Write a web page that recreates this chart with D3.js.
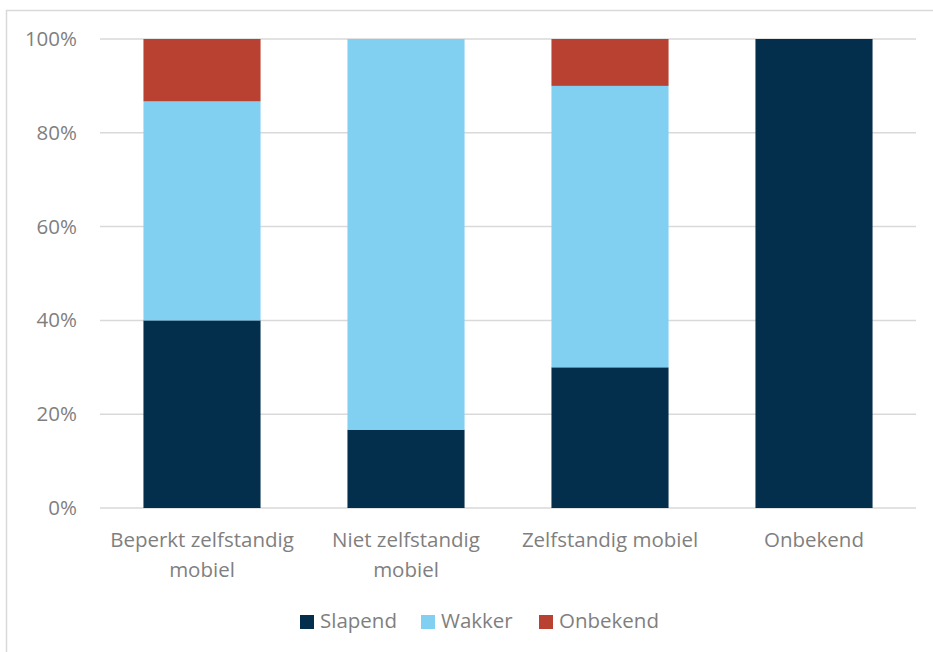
<!DOCTYPE html>
<html>
<head>
<meta charset="utf-8">
<script src="https://cdn.jsdelivr.net/npm/d3@7"></script>
<style>
  body { margin: 0; background: #fff; }
  text { font-family: "Open Sans", "Liberation Sans", sans-serif; fill: #7f7f7f; }
</style>
</head>
<body>
<svg id="chart" width="933" height="652"></svg>
<script>
const categories = [["Beperkt zelfstandig", "mobiel"], ["Niet zelfstandig", "mobiel"], ["Zelfstandig mobiel"], ["Onbekend"]];
const seriesNames = ["Slapend", "Wakker", "Onbekend"];
const slapend = [40, 16.7, 30, 100];
const wakker = [46.7, 83.3, 60, 0];
const onbekend = [13.3, 0, 10, 0];
const yTicks = [0, 20, 40, 60, 80, 100];
const colors = ["#032e4c", "#81d0f2", "#b94131"];
const fontSize = 20.5;

const svg = d3.select("#chart");

// outer frame
svg.append("rect").attr("x", 6.5).attr("y", 10.5).attr("width", 940).attr("height", 660)
  .attr("fill", "none").attr("stroke", "#d9d9d9").attr("stroke-width", 1.5);

const margin = { left: 100, right: 17, top: 39, bottom: 144 };
const W = 933, H = 652;
const x = d3.scaleBand().domain(d3.range(categories.length)).range([margin.left, W - margin.right]).paddingInner(0.426).paddingOuter(0.213);
const y = d3.scaleLinear().domain([0, 100]).range([H - margin.bottom, margin.top]);

// gridlines
svg.append("g").selectAll("line").data(yTicks).join("line")
  .attr("x1", margin.left).attr("x2", W - margin.right)
  .attr("y1", d => y(d)).attr("y2", d => y(d))
  .attr("stroke", "#d9d9d9").attr("stroke-width", 1.5);

// y tick labels
const yAxis = d3.axisLeft(y).tickValues(yTicks).tickFormat(d => d + "%").tickSize(0).tickPadding(0);
const gy = svg.append("g").attr("transform", `translate(${margin.left - 23},0)`).call(yAxis);
gy.select(".domain").remove();
gy.selectAll("text").attr("font-size", fontSize).style("fill", "#7f7f7f").attr("font-family", "'Open Sans', sans-serif");

// stacked data
const rows = categories.map((c, i) => ({ i, Slapend: slapend[i], Wakker: wakker[i], Onbekend: onbekend[i] }));
const stacked = d3.stack().keys(seriesNames)(rows);

svg.append("g").selectAll("g").data(stacked).join("g")
  .attr("fill", (d, k) => colors[k])
  .selectAll("rect").data(d => d).join("rect")
  .attr("x", d => x(d.data.i))
  .attr("width", x.bandwidth())
  .attr("y", d => y(d[1]))
  .attr("height", d => y(d[0]) - y(d[1]));

// x category labels
const gx = svg.append("g");
categories.forEach((lines, i) => {
  const cx = x(i) + x.bandwidth() / 2;
  const t = gx.append("text").attr("text-anchor", "middle").attr("font-size", fontSize)
    .attr("x", cx).attr("y", 547);
  lines.forEach((ln, j) => t.append("tspan").attr("x", cx).attr("dy", j === 0 ? 0 : 30).text(ln));
});

// legend
const legendX = [300, 421, 539];
const lg = svg.append("g");
seriesNames.forEach((s, k) => {
  lg.append("rect").attr("x", legendX[k]).attr("y", 615).attr("width", 14).attr("height", 14).attr("fill", colors[k]);
  lg.append("text").attr("x", legendX[k] + 20).attr("y", 628).attr("font-size", fontSize).text(s);
});
</script>
</body>
</html>
